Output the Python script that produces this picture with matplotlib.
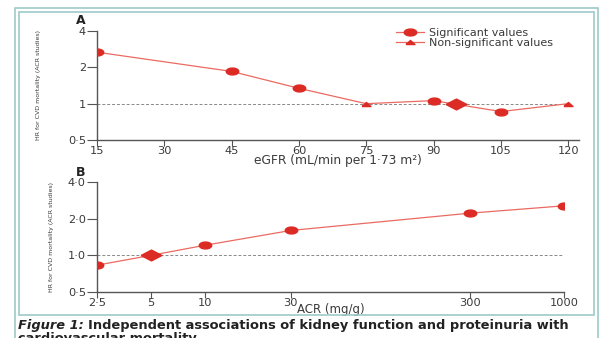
import numpy as np
import matplotlib
matplotlib.use("Agg")
import matplotlib.pyplot as plt
from matplotlib.patches import Rectangle
from matplotlib.lines import Line2D
from matplotlib.ticker import FixedLocator, FixedFormatter, NullLocator

# Panel A data (eGFR)
egfr = [15, 45, 60, 75, 90, 105, 120]
hr_egfr = [2.67, 1.85, 1.34, 1.0, 1.06, 0.86, 1.0]
sig_egfr = [True, True, True, False, True, True, False]
ref_egfr = 95
egfr_ticks = [15, 30, 45, 60, 75, 90, 105, 120]
hr_ticks = [0.5, 1, 2, 4]
hr_labels_a = ["0·5", "1", "2", "4"]

# Panel B data (ACR)
acr = [2.5, 10, 30, 300, 1000]
hr_acr = [0.83, 1.21, 1.6, 2.22, 2.55]
ref_acr = 5
acr_ticks = [2.5, 5, 10, 30, 300, 1000]
acr_labels = ["2·5", "5", "10", "30", "300", "1000"]
hr_labels_b = ["0·5", "1·0", "2·0", "4·0"]

RED = "#dc2b25"
LINE_RED = "#ea6a62"
AXC = "#555555"
TXT = "#3a3a3a"
BORDER = "#9ccbc9"

plt.rcParams['font.family'] = ['DejaVu Sans']

# squashed markers (the source image is stretched sideways)
ELLIPSE = [(np.cos(t), 0.55 * np.sin(t)) for t in np.linspace(0, 2 * np.pi, 40)]
DIAMOND = [(-1, 0), (0, 0.52), (1, 0), (0, -0.52), (-1, 0)]
TRIANGLE = [(-1, -0.45), (1, -0.45), (0, 0.45), (-1, -0.45)]

W, H = 603, 338
fig = plt.figure(figsize=(W / 100, H / 100), dpi=100)
fig.patch.set_facecolor("white")


def fx(x):
    return x / W


def fy(y):
    return 1 - y / H


# teal double border
fig.patches.append(Rectangle((fx(15), fy(345)), fx(598 - 15), (345 - 8) / H,
                             transform=fig.transFigure, fill=False,
                             edgecolor=BORDER, lw=1.2))
fig.patches.append(Rectangle((fx(19), fy(315)), fx(594 - 19), (315 - 12) / H,
                             transform=fig.transFigure, fill=False,
                             edgecolor=BORDER, lw=1.2))


def style_axes(ax):
    for s in ["top", "right"]:
        ax.spines[s].set_visible(False)
    for s in ["left", "bottom"]:
        ax.spines[s].set_color(AXC)
        ax.spines[s].set_linewidth(1.0)
    ax.tick_params(colors=AXC, labelcolor=TXT, labelsize=8.2, width=0.8)
    ax.tick_params(axis="x", length=4, pad=0)
    ax.tick_params(axis="y", length=7, pad=1)
    ax.set_facecolor("none")


ylab_font = dict(family=['Liberation Sans Narrow', 'DejaVu Sans'], fontsize=4.5, color=TXT)

# ---- Panel A ----
axA = fig.add_axes([fx(97), fy(140), fx(579 - 97), (140 - 31) / H])
axA.set_yscale("log", base=2)
axA.set_xlim(15, 122.4)
axA.set_ylim(0.5, 4)
axA.axhline(1.0, xmin=0, xmax=(120 - 15) / (122.4 - 15), color="#888888", lw=0.7,
            ls=(0, (3, 2)), zorder=1)
axA.plot(egfr, hr_egfr, color=LINE_RED, lw=0.9, zorder=2)
xs = [e for e, s in zip(egfr, sig_egfr) if s]
ys = [h for h, s in zip(hr_egfr, sig_egfr) if s]
axA.plot(xs, ys, ls="none", marker=ELLIPSE, ms=9, color=RED, zorder=3)
xn = [e for e, s in zip(egfr, sig_egfr) if not s]
yn = [h for h, s in zip(hr_egfr, sig_egfr) if not s]
axA.plot(xn, yn, ls="none", marker=TRIANGLE, ms=6.5, color=RED, zorder=3)
axA.plot([ref_egfr], [1.0], ls="none", marker=DIAMOND, ms=15, color=RED, zorder=4)
axA.set_xticks(egfr_ticks)
axA.yaxis.set_major_locator(FixedLocator(hr_ticks))
axA.yaxis.set_major_formatter(FixedFormatter(hr_labels_a))
axA.yaxis.set_minor_locator(NullLocator())
style_axes(axA)
axA.set_xlabel("eGFR (mL/min per 1·73 m²)", fontsize=8.8, color=TXT, labelpad=-1)
axA.set_ylabel("HR for CVD mortality (ACR studies)", labelpad=19, **ylab_font)

handles = [Line2D([], [], color=LINE_RED, lw=0.9, marker=ELLIPSE, ms=9, mfc=RED, mec=RED),
           Line2D([], [], color=LINE_RED, lw=0.9, marker=TRIANGLE, ms=6.5, mfc=RED, mec=RED)]
axA.legend(handles, ["Significant values", "Non-significant values"],
           loc="upper left", bbox_to_anchor=((388 - 97) / (579 - 97), 1.1),
           frameon=False, fontsize=8, handlelength=2.5, handletextpad=0.5,
           labelspacing=-0.02, borderpad=0.2, labelcolor=TXT)

fig.text(fx(76), fy(20), "A", fontsize=9, fontweight="bold", color="#222222", va="center")

# ---- Panel B ----
axB = fig.add_axes([fx(97), fy(292), fx(564 - 97), (292 - 182) / H])
axB.set_xscale("log")
axB.set_yscale("log", base=2)
axB.set_xlim(2.5, 1000)
axB.set_ylim(0.5, 4)
axB.axhline(1.0, color="#888888", lw=0.7, ls=(0, (3, 2)), zorder=1)
line_x = [acr[0], ref_acr] + acr[1:]
line_y = [hr_acr[0], 1.0] + hr_acr[1:]
axB.plot(line_x, line_y, color=LINE_RED, lw=0.9, zorder=2)
axB.plot(acr, hr_acr, ls="none", marker=ELLIPSE, ms=9, color=RED, zorder=3)
axB.plot([ref_acr], [1.0], ls="none", marker=DIAMOND, ms=15, color=RED, zorder=4)
axB.xaxis.set_major_locator(FixedLocator(acr_ticks))
axB.xaxis.set_major_formatter(FixedFormatter(acr_labels))
axB.xaxis.set_minor_locator(NullLocator())
axB.yaxis.set_major_locator(FixedLocator(hr_ticks))
axB.yaxis.set_major_formatter(FixedFormatter(hr_labels_b))
axB.yaxis.set_minor_locator(NullLocator())
style_axes(axB)
axB.set_xlabel("ACR (mg/g)", fontsize=8.5, color=TXT, labelpad=-3.5)
axB.set_ylabel("HR for CVD mortality (ACR studies)", labelpad=10, **ylab_font)

fig.text(fx(76), fy(172), "B", fontsize=9, fontweight="bold", color="#222222", va="center")

# caption
cap = dict(fontsize=9.4, fontweight="bold", color="#222222", va="center")
t1 = fig.text(fx(18), fy(326), "Figure 1:", fontstyle="italic", **cap)
fig.canvas.draw()
bb = t1.get_window_extent()
fig.text((bb.x1 + 4) / W, fy(326),
         "Independent associations of kidney function and proteinuria with", **cap)
fig.text(fx(18), fy(339), "cardiovascular mortality", **cap)

fig.savefig("out.png", dpi=100, facecolor="white")
